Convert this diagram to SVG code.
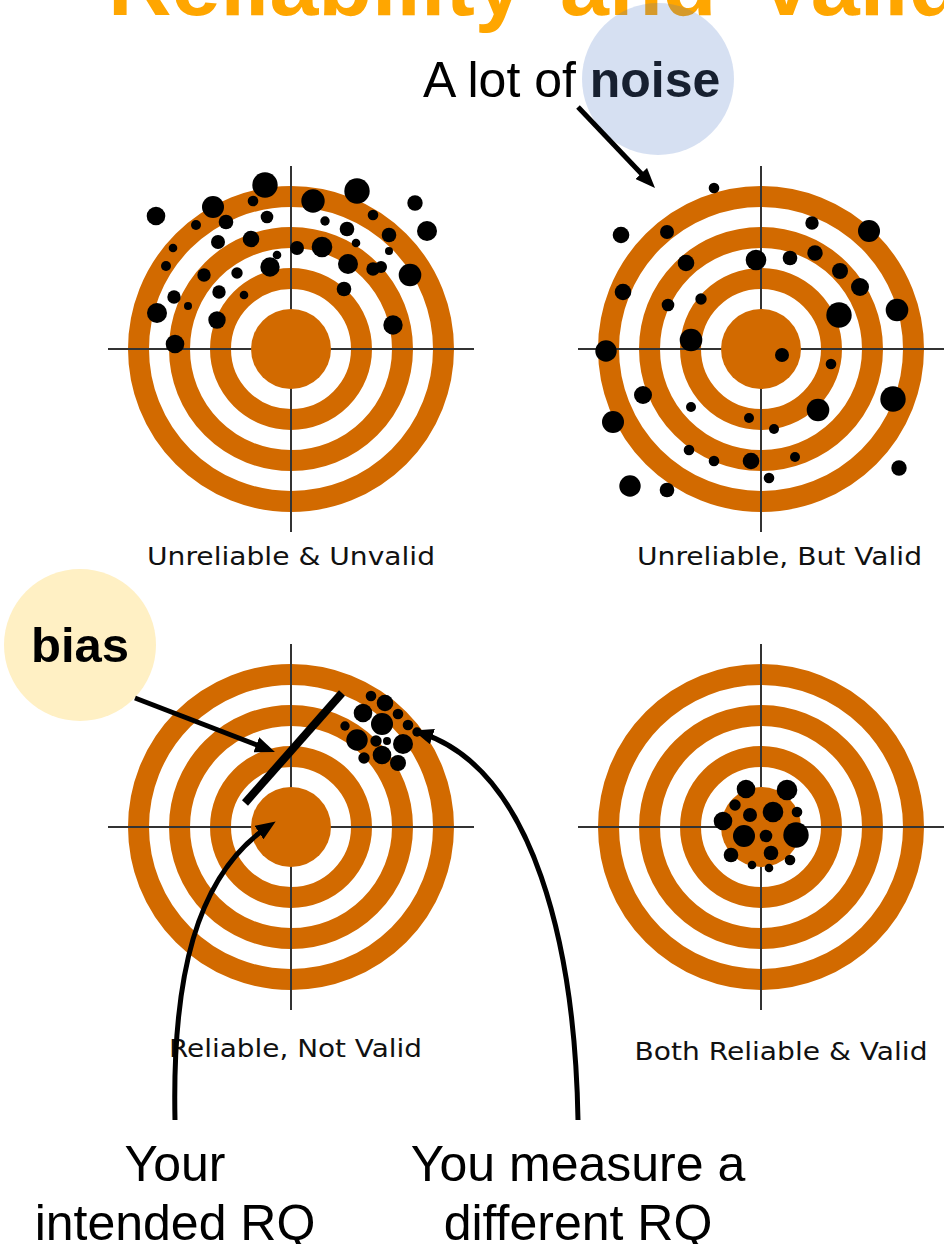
<svg xmlns="http://www.w3.org/2000/svg" xmlns:xlink="http://www.w3.org/1999/xlink" width="944" height="1244" viewBox="0 0 944 1244">
<style>
.ring{fill:none;stroke:#D26A00;stroke-width:21}
.disc{fill:#D26A00}
.axis{stroke:#333;stroke-width:2}
.dot{fill:#000}
.cap{font-family:"DejaVu Sans",sans-serif;font-size:25px;fill:#111;text-anchor:middle}
.big{font-family:"Liberation Sans",Arial,sans-serif;font-size:50px;fill:#000;text-anchor:middle}
.arr{fill:none;stroke:#000;stroke-width:5}
</style>
<defs>
<marker id="ah" viewBox="0 0 20 16" refX="12" refY="8" markerWidth="20" markerHeight="16" orient="auto" markerUnits="userSpaceOnUse"><path d="M0,0 L20,8 L0,16 z" fill="#000"/></marker>
<g id="target">
<circle class="ring" r="152.5"/>
<circle class="ring" r="111.5"/>
<circle class="ring" r="70.5"/>
<line class="axis" x1="-183" y1="0" x2="183" y2="0"/>
<line class="axis" x1="0" y1="-183" x2="0" y2="183"/>
<circle class="disc" r="40"/>
</g>
</defs>
<rect width="944" height="1244" fill="#fff"/>
<g id="title">
<text font-family="Liberation Sans,Arial,sans-serif" font-weight="bold" font-size="88" fill="#FFA600" y="15"><tspan x="108">Reliability</tspan><tspan x="560">and</tspan><tspan x="757">Validity</tspan></text>
</g>
<g id="noise-label">
<circle cx="658" cy="79" r="76" fill="#4472C4" fill-opacity="0.22"/>
<text x="423" y="97" font-family="Liberation Sans,Arial,sans-serif" font-size="50" fill="#000">A lot of <tspan font-weight="bold" fill="#172030">noise</tspan></text>
</g>
<g id="bias-label">
<circle cx="80" cy="645" r="76" fill="#FFF0C4"/>
<text x="80" y="662" font-family="Liberation Sans,Arial,sans-serif" font-size="49" font-weight="bold" fill="#000" text-anchor="middle">bias</text>
</g>
<g id="target-unreliable-unvalid">
<use xlink:href="#target" x="291" y="349"/>
<g class="dot">
<circle cx="156" cy="216" r="9.3"/><circle cx="213" cy="207" r="11"/><circle cx="265" cy="185" r="12.7"/><circle cx="253" cy="201" r="5.3"/>
<circle cx="313" cy="201" r="11.7"/><circle cx="357" cy="191" r="12.7"/><circle cx="415" cy="203" r="7.7"/><circle cx="427" cy="231" r="10"/>
<circle cx="196" cy="225" r="5"/><circle cx="226" cy="222" r="7.3"/><circle cx="267" cy="217" r="6.3"/><circle cx="325" cy="221" r="4.7"/>
<circle cx="347" cy="229" r="7.3"/><circle cx="373" cy="215" r="5.3"/><circle cx="389" cy="235" r="7.3"/><circle cx="173" cy="248" r="4.3"/>
<circle cx="218" cy="242" r="7"/><circle cx="251" cy="239" r="8.3"/><circle cx="297" cy="248" r="7"/><circle cx="322" cy="247" r="10.3"/>
<circle cx="356" cy="243" r="4.3"/><circle cx="389" cy="251" r="4"/><circle cx="166" cy="266" r="5"/><circle cx="204" cy="275" r="6.7"/>
<circle cx="237" cy="273" r="5.7"/><circle cx="277" cy="255" r="4.3"/><circle cx="270" cy="267" r="9.7"/><circle cx="348" cy="264" r="10"/>
<circle cx="373" cy="269" r="6.7"/><circle cx="381" cy="267" r="6"/><circle cx="410" cy="275" r="11.3"/><circle cx="174" cy="297" r="6.7"/>
<circle cx="219" cy="292" r="6.7"/><circle cx="244" cy="295" r="4.3"/><circle cx="188" cy="306" r="4"/><circle cx="344" cy="289" r="7.3"/>
<circle cx="157" cy="313" r="10"/><circle cx="217" cy="320" r="8.7"/><circle cx="393" cy="325" r="9.7"/><circle cx="175" cy="344" r="9.3"/>
</g>
<text class="cap" x="291" y="565" textLength="288" lengthAdjust="spacingAndGlyphs">Unreliable &amp; Unvalid</text>
</g>
<g id="target-unreliable-valid">
<use xlink:href="#target" x="761" y="349"/>
<g class="dot">
<circle cx="714" cy="188" r="5.3"/><circle cx="621" cy="235" r="8.3"/><circle cx="667" cy="232" r="7"/><circle cx="812" cy="223" r="6.7"/>
<circle cx="869" cy="231" r="11"/><circle cx="686" cy="263" r="8.3"/><circle cx="756" cy="260" r="10.3"/><circle cx="790" cy="258" r="7.3"/>
<circle cx="815" cy="253" r="7.7"/><circle cx="840" cy="271" r="8"/><circle cx="860" cy="287" r="9"/><circle cx="623" cy="292" r="8.3"/>
<circle cx="668" cy="305" r="6.3"/><circle cx="701" cy="299" r="5.7"/><circle cx="839" cy="315" r="12.7"/><circle cx="897" cy="310" r="11.3"/>
<circle cx="606" cy="351" r="10.7"/><circle cx="691" cy="340" r="11.3"/><circle cx="782" cy="355" r="7"/><circle cx="831" cy="364" r="5.3"/>
<circle cx="643" cy="395" r="9"/><circle cx="893" cy="399" r="12.7"/><circle cx="613" cy="422" r="11"/><circle cx="691" cy="407" r="5"/>
<circle cx="818" cy="410" r="11.3"/><circle cx="749" cy="418" r="5"/><circle cx="774" cy="429" r="5"/><circle cx="689" cy="450" r="5.3"/>
<circle cx="714" cy="461" r="5.3"/><circle cx="751" cy="461" r="8.3"/><circle cx="795" cy="457" r="5"/><circle cx="899" cy="468" r="7.7"/>
<circle cx="769" cy="478" r="5.3"/><circle cx="630" cy="486" r="10.7"/><circle cx="667" cy="490" r="7.3"/>
</g>
<text class="cap" x="779.5" y="565" textLength="285" lengthAdjust="spacingAndGlyphs">Unreliable, But Valid</text>
</g>
<g id="target-reliable-not-valid">
<use xlink:href="#target" x="291" y="827"/>
<line x1="245" y1="803" x2="342" y2="693" stroke="#000" stroke-width="8"/>
<g class="dot">
<circle cx="371" cy="696" r="5.3"/><circle cx="385" cy="703" r="8.3"/><circle cx="363" cy="713" r="9.3"/><circle cx="398" cy="714" r="5.3"/>
<circle cx="382" cy="724" r="11"/><circle cx="408" cy="725" r="5.3"/><circle cx="345" cy="726" r="4.7"/><circle cx="417" cy="732" r="4.7"/>
<circle cx="357" cy="740" r="10.7"/><circle cx="376" cy="741" r="5.7"/><circle cx="387" cy="741" r="4"/><circle cx="403" cy="744" r="10"/>
<circle cx="382" cy="755" r="9.3"/><circle cx="364" cy="758" r="5.7"/><circle cx="398" cy="763" r="8"/>
</g>
<text class="cap" x="295.5" y="1057" textLength="253" lengthAdjust="spacingAndGlyphs">Reliable, Not Valid</text>
</g>
<g id="target-reliable-valid">
<use xlink:href="#target" x="761" y="827"/>
<g class="dot">
<circle cx="746" cy="789" r="9.3"/><circle cx="787" cy="790" r="10.3"/><circle cx="735" cy="805" r="5.7"/><circle cx="750" cy="815" r="7"/>
<circle cx="773" cy="812" r="10.3"/><circle cx="797" cy="812" r="5.3"/><circle cx="723" cy="821" r="9.3"/><circle cx="744" cy="836" r="11"/>
<circle cx="766" cy="836" r="6.3"/><circle cx="796" cy="835" r="12.7"/><circle cx="731" cy="855" r="7.3"/><circle cx="771" cy="853" r="7.3"/>
<circle cx="790" cy="860" r="5.3"/><circle cx="752" cy="865" r="4.3"/><circle cx="769" cy="868" r="4.3"/>
</g>
<text class="cap" x="781" y="1060" textLength="293" lengthAdjust="spacingAndGlyphs">Both Reliable &amp; Valid</text>
</g>
<g id="label-intended">
<text class="big" x="175" y="1181">Your</text>
<text class="big" x="175" y="1240">intended RQ</text>
</g>
<g id="label-different">
<text class="big" x="578" y="1181">You measure a</text>
<text class="big" x="578" y="1240">different RQ</text>
</g>
<g id="connectors">
<path class="arr" d="M578,107 L649.5,182.2" marker-end="url(#ah)"/>
<path class="arr" d="M135,698 L267.5,749.1" marker-end="url(#ah)"/>
<path class="arr" d="M175,1120 C172,980 195,875 269,826" marker-end="url(#ah)"/>
<path class="arr" d="M578,1120 C575,950 535,770 421,733" marker-end="url(#ah)"/>
</g>
</svg>
